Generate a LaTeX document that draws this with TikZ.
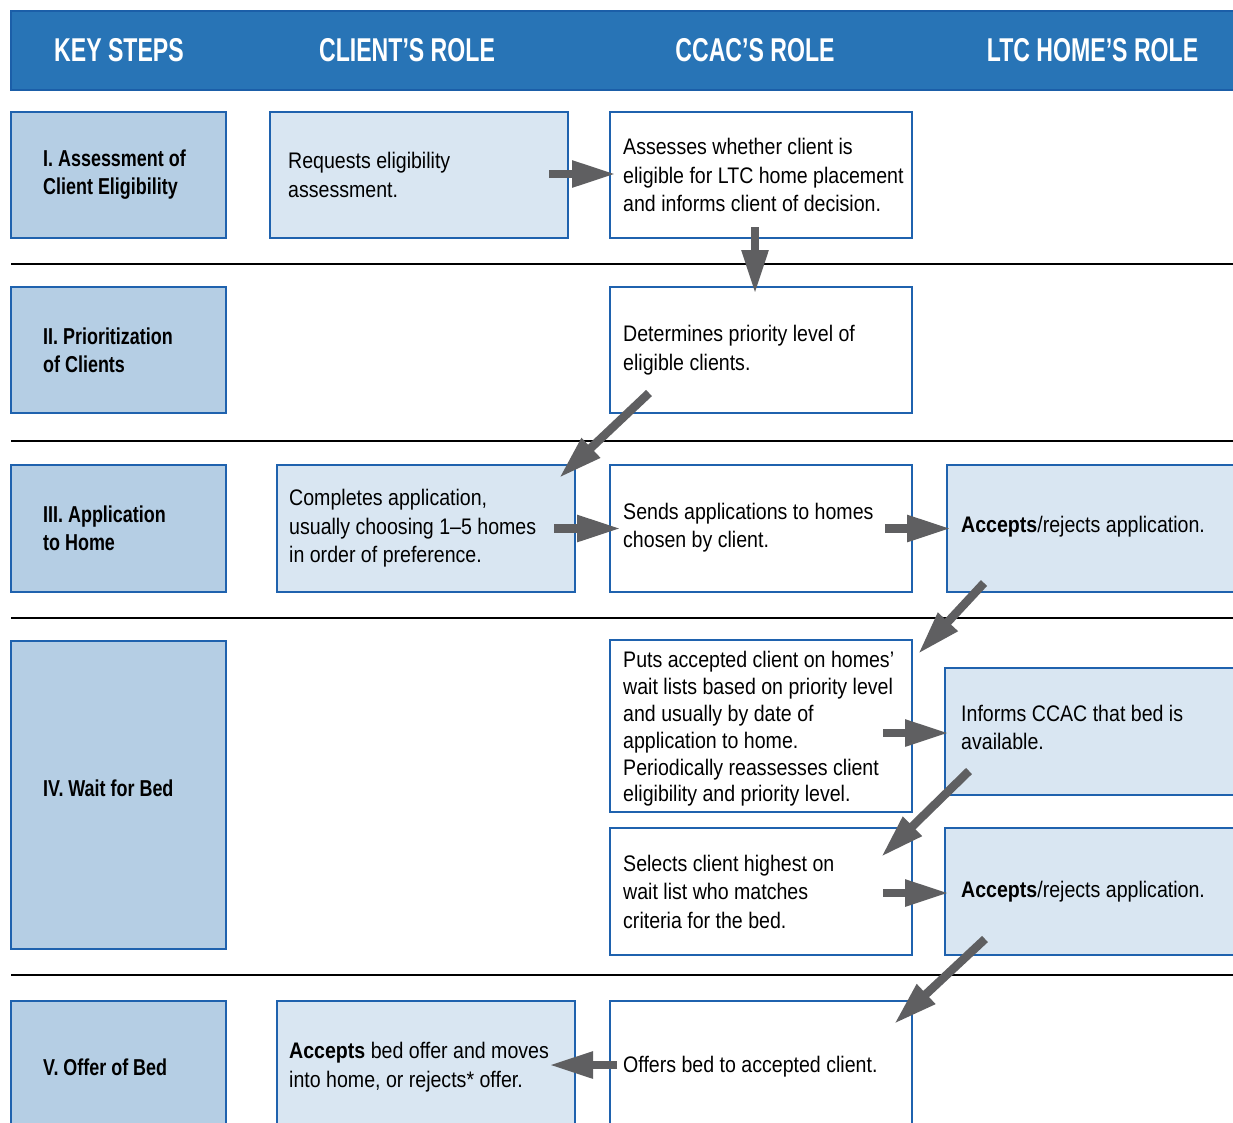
\documentclass[tikz,border=0pt]{standalone}
\usepackage{fontspec}
\setmainfont[FakeStretch=0.87]{Liberation Sans}
\newfontfamily\headfont[FakeStretch=0.70]{Liberation Sans}
\newfontfamily\stepfont[FakeStretch=0.78]{Liberation Sans}
\usepackage{xcolor}
\usepackage{tikz}
\usetikzlibrary{calc,positioning,arrows.meta}
\definecolor{hdrblue}{HTML}{2874B6}
\definecolor{hdredge}{HTML}{1B5EA8}
\definecolor{edgeblue}{HTML}{1F62AE}
\definecolor{keyfill}{HTML}{B5CEE4}
\definecolor{rolefill}{HTML}{D9E6F2}
\definecolor{arrowgray}{HTML}{5F5F61}
\tikzset{
  box/.style={draw=edgeblue, line width=2pt, rectangle, inner sep=0pt},
  keybox/.style={box, fill=keyfill, minimum width=215pt},
  clientbox/.style={box, fill=rolefill, minimum width=298pt},
  ccacbox/.style={box, fill=white, minimum width=302pt},
  ltcbox/.style={box, fill=rolefill},
  flow/.style={draw=arrowgray, line width=8.5pt, -{Triangle[length=44pt,width=25pt]}},
  rule/.style={draw=black, line width=1.2pt},
  lab/.style={anchor=west, inner sep=0pt, align=left, text=black,
    font=\fontsize{22.5}{28.5}\selectfont},
  steplab/.style={anchor=west, inner sep=0pt, align=left, text=black,
    font=\stepfont\bfseries\fontsize{23}{28}\selectfont},
  headlab/.style={inner sep=0pt, text=white, font=\headfont\bfseries\fontsize{33}{33}\selectfont},
}

\begin{document}
\begin{tikzpicture}[x=1pt,y=-1pt]
  \useasboundingbox (0,0) rectangle (1233,1122);
  \clip (0,0) rectangle (1233,1122);

  % header band
  \node[draw=hdredge, fill=hdrblue, line width=2.5pt, minimum width=1229pt, minimum height=79pt, inner sep=0pt] (hdr) at (625.5,50.5) {};
  \node[headlab] (hkey) at (119,50) {KEY STEPS};
  \node[headlab] (hclient) at (407,50) {CLIENT’S ROLE};
  \node[headlab] (hccac) at (755,50) {CCAC’S ROLE};
  \node[headlab] (hltc) at (1092.5,50) {LTC HOME’S ROLE};

  % row separators
  \foreach \y in {264,441,618,975}
    \draw[rule] (11,\y) -- (1240,\y);

  % I
  \node[keybox, minimum height=126pt] (k1) at (118.5,175) {};
  \node[clientbox, minimum height=126pt] (cl1) at (419,175) {};
  \node[ccacbox, minimum height=126pt] (cc1) at (761,175) {};
  \node[steplab, right=33pt of k1.west] (k1t) {I. Assessment of\\Client Eligibility};
  \node[lab, right=19pt of cl1.west] (cl1t) {Requests eligibility\\assessment.};
  \node[lab, right=14pt of cc1.west] (cc1t) {Assesses whether client is\\eligible for LTC home placement\\and informs client of decision.};

  % II
  \node[keybox, minimum height=126pt] (k2) at (118.5,350) {};
  \node[ccacbox, minimum height=126pt] (cc2) at (761,350) {};
  \node[steplab, right=33pt of k2.west] (k2t) {II. Prioritization\\of Clients};
  \node[lab, right=14pt of cc2.west] (cc2t) {Determines priority level of\\eligible clients.};

  % III
  \node[keybox, minimum height=127pt] (k3) at (118.5,528.5) {};
  \node[clientbox, minimum height=127pt] (cl3) at (426,528.5) {};
  \node[ccacbox, minimum height=127pt] (cc3) at (761,528.5) {};
  \node[ltcbox, minimum width=293pt, minimum height=127pt] (lt3) at (1093.5,528.5) {};
  \node[steplab, right=33pt of k3.west] (k3t) {III. Application\\to Home};
  \node[lab, right=13pt of cl3.west] (cl3t) {Completes application,\\usually choosing 1–5 homes\\in order of preference.};
  \node[lab, right=14pt of cc3.west, yshift=1pt] (cc3t) {Sends applications to homes\\chosen by client.};
  \node[lab, right=15pt of lt3.west, yshift=2pt] (lt3t) {\textbf{Accepts}/rejects application.};

  % IV
  \node[keybox, minimum height=308pt] (k4) at (118.5,795) {};
  \node[ccacbox, minimum height=172pt] (cc4) at (761,726) {};
  \node[ccacbox, minimum height=127pt] (cc5) at (761,891.5) {};
  \node[ltcbox, minimum width=295pt, minimum height=127pt] (lt4) at (1092.5,731.5) {};
  \node[ltcbox, minimum width=295pt, minimum height=127pt] (lt5) at (1092.5,891.5) {};
  \node[steplab, right=33pt of k4.west, yshift=7pt] (k4t) {IV. Wait for Bed};
  \node[lab, right=14pt of cc4.west, yshift=-3pt, font=\fontsize{22.5}{26.8}\selectfont] (cc4t) {Puts accepted client on homes’\\wait lists based on priority level\\and usually by date of\\application to home.\\Periodically reassesses client\\eligibility and priority level.};
  \node[lab, right=14pt of cc5.west] (cc5t) {Selects client highest on\\wait list who matches\\criteria for the bed.};
  \node[lab, right=17pt of lt4.west, yshift=4pt] (lt4t) {Informs CCAC that bed is\\available.};
  \node[lab, right=17pt of lt5.west] (lt5t) {\textbf{Accepts}/rejects application.};

  % V
  \node[keybox, minimum height=132pt] (k5) at (118.5,1067) {};
  \node[clientbox, minimum height=132pt] (cl5) at (426,1067) {};
  \node[ccacbox, minimum height=132pt] (cc6) at (761,1067) {};
  \node[steplab, right=33pt of k5.west] (k5t) {V. Offer of Bed};
  \node[lab, right=13pt of cl5.west] (cl5t) {\textbf{Accepts} bed offer and moves\\into home, or rejects* offer.};
  \node[lab, right=14pt of cc6.west] (cc6t) {Offers bed to accepted client.};

  % arrows
  \draw[flow] ($(cl1.east)+(-20,-1)$) -- ($(cc1.west)+(7,-1)$);
  \draw[flow] ($(cc1.south)+(-6,-12)$) -- ($(cc2.north)+(-6,8)$);
  \draw[flow] ($(cc2.south west)+(40,-21)$) -- ($(cl3.north east)+(-17,14)$);
  \draw[flow] ($(cl3.east)+(-22,0)$) -- ($(cc3.west)+(12,0)$);
  \draw[flow] ($(cc3.east)+(-28,0)$) -- ($(lt3.west)+(5,0)$);
  \draw[flow] ($(lt3.south west)+(38,-10)$) -- ($(cc4.north east)+(5,15)$);
  \draw[flow] ($(cc4.east)+(-30,7)$) -- ($(lt4.west)+(5,1.5)$);
  \draw[flow] ($(lt4.south west)+(25,-25)$) -- ($(cc5.north east)+(-32,30)$);
  \draw[flow] ($(cc5.east)+(-30,1.5)$) -- ($(lt5.west)+(5,1.5)$);
  \draw[flow] ($(lt5.south west)+(41,-17)$) -- ($(cc6.north east)+(-19,24)$);
  \draw[flow] ($(cc6.west)+(8,-2)$) -- ($(cl5.east)+(-27,-2)$);
\end{tikzpicture}
\end{document}
